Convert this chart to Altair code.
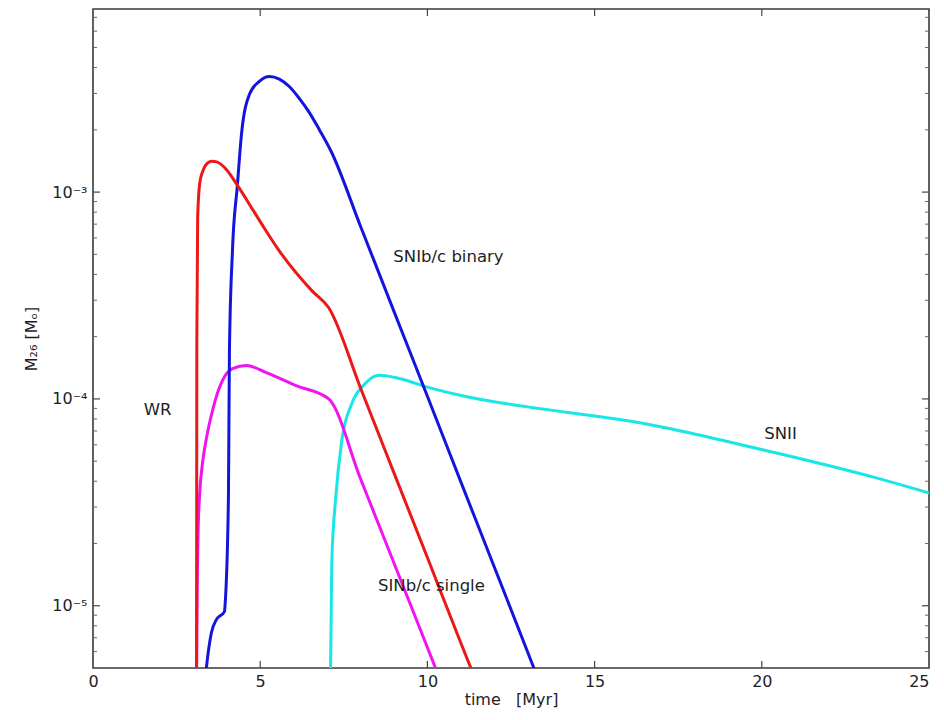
import altair as alt
import pandas as pd

# ---- data ----
wr_t = [3.095, 3.100, 3.105, 3.13, 3.19, 3.28, 3.40, 3.55, 3.70, 4.00, 4.30, 5.00, 5.57, 6.55, 7.05,
        8.0, 9.0, 10.0, 11.0, 11.42]
wr_m = [4.5e-6, 2.0e-5, 1.9e-4, 7.5e-4, 1.1e-3, 1.26e-3, 1.37e-3, 1.41e-3, 1.40e-3, 1.28e-3, 1.09e-3,
        7.2e-4, 5.2e-4, 3.33e-4, 2.76e-4, 1.13e-4, 4.39e-5, 1.71e-5, 6.6e-6, 4.47e-6]

bin_t = [3.36, 3.39, 3.54, 3.69, 3.93, 3.96, 4.05, 4.08, 4.17, 4.32, 4.44, 4.678, 4.976, 5.274, 5.572,
         5.870, 6.168, 6.466, 6.764, 7.116, 8.0, 9.0, 10.0, 11.0, 12.0, 13.0, 13.35]
bin_m = [4.5e-6, 5.0e-6, 7.4e-6, 8.57e-6, 9.36e-6, 1.07e-5, 3.35e-5, 1.71e-4, 5.2e-4, 1.09e-3, 1.9e-3,
         2.97e-3, 3.43e-3, 3.62e-3, 3.52e-3, 3.24e-3, 2.84e-3, 2.43e-3, 2.01e-3, 1.58e-3, 6.84e-4,
         2.65e-4, 1.03e-4, 3.97e-5, 1.54e-5, 5.96e-6, 4.26e-6]

sgl_t = [3.098, 3.114, 3.144, 3.188, 3.278, 3.397, 3.576, 3.725, 3.874, 4.172, 4.589, 5.18, 6.07, 7.05,
         8.0, 9.0, 10.0, 10.4]
sgl_m = [4.5e-6, 1.07e-5, 2.32e-5, 3.43e-5, 4.94e-5, 6.52e-5, 8.81e-5, 1.07e-4, 1.23e-4, 1.40e-4,
         1.45e-4, 1.34e-4, 1.16e-4, 1.0e-4, 4.11e-5, 1.61e-5, 6.28e-6, 4.31e-6]

snii_t = [7.10, 7.12, 7.14, 7.26, 7.44, 7.74, 8.15, 8.55, 9.148, 10.131, 11.144, 12.128, 13.111,
          14.094, 15.107, 16.091, 17.193, 18.683, 20.471, 21.961, 23.451, 25.0]
snii_m = [4.5e-6, 8.0e-6, 1.61e-5, 3.35e-5, 6.3e-5, 9.5e-5, 1.19e-4, 1.30e-4, 1.256e-4, 1.125e-4,
          1.028e-4, 9.62e-5, 9.10e-5, 8.65e-5, 8.23e-5, 7.80e-5, 7.21e-5, 6.38e-5, 5.46e-5, 4.78e-5,
          4.14e-5, 3.51e-5]

label_text = ["WR", "SNIb/c binary", "SNII", "SINb/c single"]
label_t = [1.93, 10.63, 20.56, 10.12]
label_m = [8.8e-5, 4.86e-4, 6.8e-5, 1.24e-5]

x_ticks = [0, 5, 10, 15, 20, 25]
x_inner_ticks = [5, 10, 15, 20]
y_major = [1e-5, 1e-4, 1e-3]
y_minor = [6e-6, 7e-6, 8e-6, 9e-6,
           2e-5, 3e-5, 4e-5, 5e-5, 6e-5, 7e-5, 8e-5, 9e-5,
           2e-4, 3e-4, 4e-4, 5e-4, 6e-4, 7e-4, 8e-4, 9e-4,
           2e-3, 3e-3, 4e-3, 5e-3, 6e-3, 7e-3]

W, H = 836, 659
FONT = "DejaVu Sans"
TXT = "#1e1e1e"

X = alt.Scale(domain=[0, 25], nice=False, zero=False)
Y = alt.Scale(type="log", domain=[5e-6, 7.68e-3], nice=False)

x_axis = alt.Axis(values=x_ticks, tickSize=0, domain=False, grid=False, labelFontSize=16,
                  labelFont=FONT, labelColor=TXT, labelPadding=5, labelFlush=False,
                  labelAlign=alt.ExprRef(expr="datum.value >= 25 ? 'right' : 'center'"),
                  title="time\u00a0\u00a0\u00a0[Myr]", titleFont=FONT, titleFontSize=16,
                  titleFontWeight="normal", titleColor=TXT, titlePadding=2)
y_axis = alt.Axis(values=y_major, tickSize=0, domain=False, grid=False, labelFontSize=16,
                  labelFont=FONT, labelColor=TXT, labelPadding=6,
                  labelExpr="datum.value < 5e-5 ? '10⁻⁵' : (datum.value < 5e-4 ? '10⁻⁴' : '10⁻³')",
                  title="M₂₆ [Mₒ]", titleFont=FONT, titleFontSize=16, titleFontWeight="normal",
                  titleColor=TXT, titlePadding=12)


def series(ts, ms, color):
    df = pd.DataFrame({"t": ts, "m": ms})
    return alt.Chart(df).mark_line(color=color, strokeWidth=3, interpolate="monotone", clip=True).encode(
        x=alt.X("t:Q", scale=X, axis=x_axis),
        y=alt.Y("m:Q", scale=Y, axis=y_axis),
    )


layers = [
    series(snii_t, snii_m, "#19e6e6"),
    series(sgl_t, sgl_m, "#f014f0"),
    series(bin_t, bin_m, "#1414dc"),
    series(wr_t, wr_m, "#ec1818"),
]

xt = pd.DataFrame({"v": x_inner_ticks})
ymaj = pd.DataFrame({"v": y_major})
ymin = pd.DataFrame({"v": y_minor})
tick_color = "#444"
layers += [
    alt.Chart(xt).mark_rule(color=tick_color, strokeWidth=1.2).encode(
        x=alt.X("v:Q", scale=X, axis=x_axis), y=alt.value(H), y2=alt.value(H - 7)),
    alt.Chart(xt).mark_rule(color=tick_color, strokeWidth=1.2).encode(
        x=alt.X("v:Q", scale=X, axis=x_axis), y=alt.value(0), y2=alt.value(7)),
    alt.Chart(ymaj).mark_rule(color=tick_color, strokeWidth=1.2).encode(
        y=alt.Y("v:Q", scale=Y, axis=y_axis), x=alt.value(0), x2=alt.value(7)),
    alt.Chart(ymaj).mark_rule(color=tick_color, strokeWidth=1.2).encode(
        y=alt.Y("v:Q", scale=Y, axis=y_axis), x=alt.value(W - 7), x2=alt.value(W)),
    alt.Chart(ymin).mark_rule(color="#666", strokeWidth=1).encode(
        y=alt.Y("v:Q", scale=Y, axis=y_axis), x=alt.value(0), x2=alt.value(4)),
    alt.Chart(ymin).mark_rule(color="#666", strokeWidth=1).encode(
        y=alt.Y("v:Q", scale=Y, axis=y_axis), x=alt.value(W - 4), x2=alt.value(W)),
]

labels = pd.DataFrame({"t": label_t, "m": label_m, "text": label_text})
layers.append(
    alt.Chart(labels).mark_text(font=FONT, fontSize=16.5, color=TXT, align="center",
                                baseline="middle").encode(
        x=alt.X("t:Q", scale=X, axis=x_axis),
        y=alt.Y("m:Q", scale=Y, axis=y_axis),
        text="text:N")
)

chart = alt.layer(*layers).properties(
    width=W, height=H,
    autosize=alt.AutoSizeParams(type="none"),
    padding={"left": 85, "top": 1, "right": 7, "bottom": 42},
).configure_view(stroke="#3a3a3a", strokeWidth=1.6)

chart.save("out.html", embed_options={"renderer": "svg", "actions": False})
